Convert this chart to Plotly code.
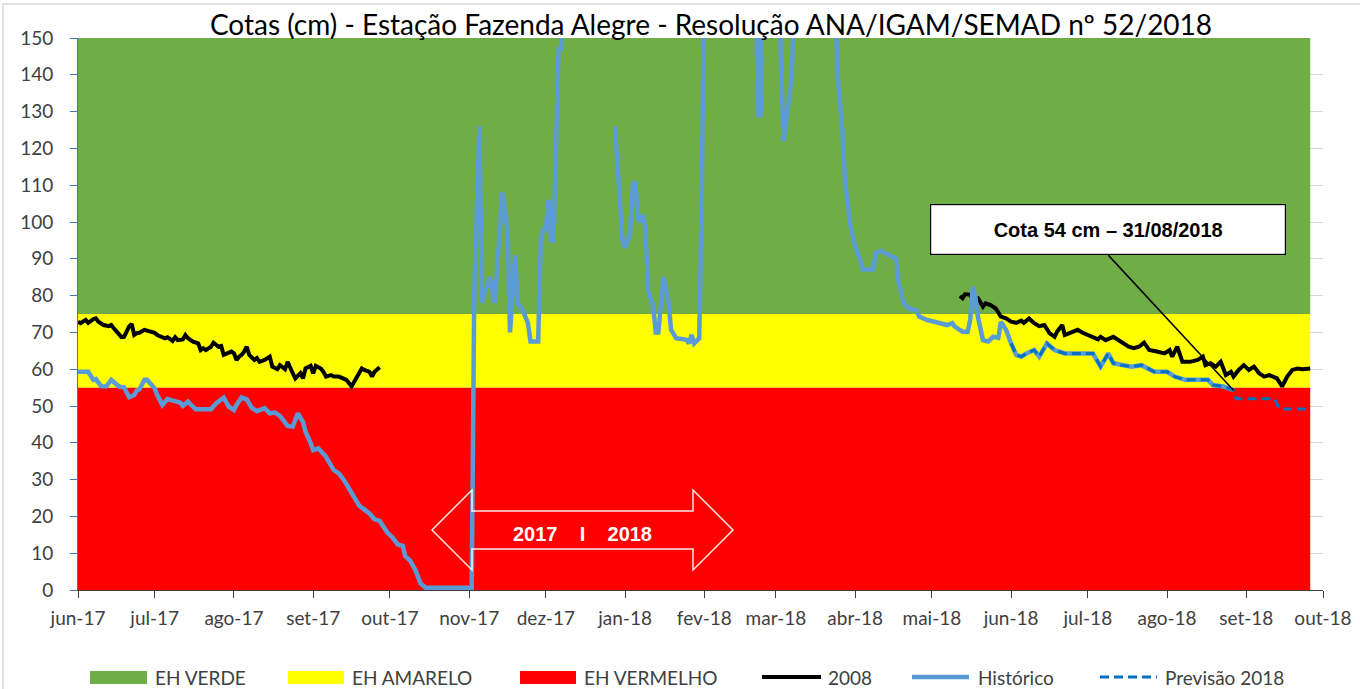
import plotly.graph_objects as go

# ---------------- data ----------------
tick_dates = ["2017-06-01", "2017-07-01", "2017-08-01", "2017-09-01", "2017-10-01", "2017-11-01",
              "2017-12-01", "2018-01-01", "2018-02-01", "2018-03-01", "2018-04-01", "2018-05-01",
              "2018-06-01", "2018-07-01", "2018-08-01", "2018-09-01", "2018-10-01"]
tick_labels = ["jun-17", "jul-17", "ago-17", "set-17", "out-17", "nov-17", "dez-17", "jan-18",
               "fev-18", "mar-18", "abr-18", "mai-18", "jun-18", "jul-18", "ago-18", "set-18", "out-18"]

band_dates = ["2017-06-01", "2018-09-26"]
eh_vermelho = [55, 55]
eh_amarelo = [75, 75]
eh_verde = [150, 150]

# 2008 reference year (plotted over 2017 and 2018)
y2008_dates = [
    "2017-06-01", "2017-06-02", "2017-06-04", "2017-06-05", "2017-06-07", "2017-06-08", "2017-06-09",
    "2017-06-11", "2017-06-13", "2017-06-14", "2017-06-15", "2017-06-17", "2017-06-18", "2017-06-19",
    "2017-06-21", "2017-06-22", "2017-06-23", "2017-06-24", "2017-06-25", "2017-06-27", "2017-06-29",
    "2017-07-01", "2017-07-02", "2017-07-04", "2017-07-05", "2017-07-06", "2017-07-08", "2017-07-09",
    "2017-07-10", "2017-07-12", "2017-07-13", "2017-07-14", "2017-07-16", "2017-07-18", "2017-07-19",
    "2017-07-20", "2017-07-21", "2017-07-23", "2017-07-24", "2017-07-26", "2017-07-27", "2017-07-28",
    "2017-07-30", "2017-07-31", "2017-08-01", "2017-08-02", "2017-08-03", "2017-08-04", "2017-08-05",
    "2017-08-06", "2017-08-07", "2017-08-09", "2017-08-10", "2017-08-11", "2017-08-13", "2017-08-15",
    "2017-08-16", "2017-08-18", "2017-08-19", "2017-08-21", "2017-08-22", "2017-08-23", "2017-08-24",
    "2017-08-25", "2017-08-27", "2017-08-28", "2017-08-29", "2017-08-31", "2017-09-01", "2017-09-02",
    "2017-09-04", "2017-09-05", "2017-09-06", "2017-09-08", "2017-09-09", "2017-09-11", "2017-09-13",
    "2017-09-14", "2017-09-16", "2017-09-17", "2017-09-19", "2017-09-20", "2017-09-21", "2017-09-23",
    "2017-09-24", "2017-09-25", "2017-09-27", "2017-09-28",
    "2018-05-12", "2018-05-13", "2018-05-14", "2018-05-16", "2018-05-17", "2018-05-19", "2018-05-21",
    "2018-05-22", "2018-05-24", "2018-05-26", "2018-05-28", "2018-05-30", "2018-06-01", "2018-06-03",
    "2018-06-05", "2018-06-06", "2018-06-08", "2018-06-10", "2018-06-12", "2018-06-14", "2018-06-16",
    "2018-06-18", "2018-06-19", "2018-06-21", "2018-06-22", "2018-06-24", "2018-06-27", "2018-06-29",
    "2018-07-01", "2018-07-03", "2018-07-05", "2018-07-06", "2018-07-08", "2018-07-11", "2018-07-13",
    "2018-07-15", "2018-07-17", "2018-07-19", "2018-07-21", "2018-07-23", "2018-07-25", "2018-07-28",
    "2018-07-31", "2018-08-02", "2018-08-03", "2018-08-05", "2018-08-07", "2018-08-10", "2018-08-13",
    "2018-08-15", "2018-08-16", "2018-08-18", "2018-08-20", "2018-08-22", "2018-08-24", "2018-08-26",
    "2018-08-27", "2018-08-29", "2018-08-31", "2018-09-02", "2018-09-04", "2018-09-06", "2018-09-08",
    "2018-09-10", "2018-09-13", "2018-09-15", "2018-09-17", "2018-09-19", "2018-09-21", "2018-09-23",
    "2018-09-26"]
y2008_vals = [
    72.9, 72.5, 73.4, 72.6, 73.6, 73.8, 72.9,
    72.0, 71.7, 72.0, 71.1, 69.3, 68.7, 68.8,
    71.6, 72.3, 69.3, 69.8, 69.9, 70.7, 70.2,
    69.9, 69.3, 68.8, 68.4, 68.7, 67.7, 68.7,
    67.9, 68.1, 69.3, 68.4, 67.5, 67.0, 65.2,
    65.7, 65.2, 66.1, 67.2, 66.1, 66.3, 63.9,
    64.5, 64.8, 64.3, 62.5, 63.4, 63.9, 64.8,
    66.1, 63.9, 62.5, 63.0, 62.0, 62.5, 63.4,
    60.7, 60.0, 61.1, 60.0, 62.0, 60.2, 58.9,
    57.5, 58.9, 57.5, 60.2, 60.9, 58.9, 60.9,
    60.2, 59.3, 58.0, 58.4, 58.0, 58.0, 57.3,
    57.1, 55.3, 56.6, 59.3, 60.2, 59.8, 59.3,
    58.0, 59.3, 60.5, None,
    79.9, 79.3, 80.4, 80.2, 78.8, 79.3, 77.0,
    77.9, 77.4, 76.5, 74.3, 73.8, 72.9, 72.6,
    73.2, 72.6, 73.8, 72.5, 71.7, 72.0, 69.8,
    68.8, 70.2, 72.0, 69.3, 69.8, 70.7, 69.9,
    69.3, 68.8, 68.1, 68.8, 67.9, 68.8, 67.9,
    67.0, 66.1, 65.7, 66.1, 67.2, 65.2, 64.8,
    64.3, 65.2, 63.4, 66.1, 62.0, 62.0, 62.5,
    63.4, 61.1, 61.6, 60.7, 62.0, 58.4, 59.3,
    58.0, 59.8, 61.1, 59.8, 60.7, 58.9, 58.0,
    58.4, 57.5, 55.3, 58.0, 59.8, 60.2, 60.0,
    60.2]

# Historical series (values above 150 run off the top of the chart)
hist_dates = [
    "2017-06-01", "2017-06-05", "2017-06-07", "2017-06-08", "2017-06-10", "2017-06-12", "2017-06-14",
    "2017-06-16", "2017-06-17", "2017-06-19", "2017-06-21", "2017-06-23", "2017-06-24", "2017-06-25",
    "2017-06-27", "2017-06-28", "2017-07-01", "2017-07-02", "2017-07-04", "2017-07-06", "2017-07-08",
    "2017-07-11", "2017-07-12", "2017-07-14", "2017-07-17", "2017-07-23", "2017-07-25", "2017-07-28",
    "2017-07-30", "2017-08-01", "2017-08-02", "2017-08-04", "2017-08-06", "2017-08-08", "2017-08-10",
    "2017-08-13", "2017-08-15", "2017-08-17", "2017-08-19", "2017-08-22", "2017-08-24", "2017-08-26",
    "2017-08-28", "2017-08-29", "2017-08-31", "2017-09-01", "2017-09-03", "2017-09-05", "2017-09-06",
    "2017-09-09", "2017-09-11", "2017-09-13", "2017-09-15", "2017-09-17", "2017-09-19", "2017-09-21",
    "2017-09-23", "2017-09-25", "2017-09-27", "2017-09-28", "2017-09-30", "2017-10-02", "2017-10-04",
    "2017-10-06", "2017-10-07", "2017-10-09", "2017-10-11", "2017-10-13", "2017-10-15", "2017-11-02",
    "2017-11-03", "2017-11-05", "2017-11-06", "2017-11-09", "2017-11-11", "2017-11-14", "2017-11-16",
    "2017-11-17", "2017-11-19", "2017-11-20", "2017-11-22", "2017-11-24", "2017-11-25", "2017-11-28",
    "2017-11-29", "2017-11-30", "2017-12-01", "2017-12-02", "2017-12-03", "2017-12-04", "2017-12-06",
    "2017-12-07", "2017-12-08", "2017-12-18",
    "2017-12-28", "2017-12-30", "2017-12-31", "2018-01-01", "2018-01-03", "2018-01-04", "2018-01-05",
    "2018-01-06", "2018-01-07", "2018-01-08", "2018-01-09", "2018-01-10", "2018-01-12", "2018-01-13",
    "2018-01-14", "2018-01-16", "2018-01-18", "2018-01-19", "2018-01-21", "2018-01-25", "2018-01-26",
    "2018-01-27", "2018-01-28", "2018-01-30", "2018-01-31", "2018-02-01", "2018-02-11", "2018-02-21",
    "2018-02-22", "2018-02-23", "2018-02-24", "2018-02-27", "2018-03-02", "2018-03-04", "2018-03-07",
    "2018-03-09", "2018-03-18", "2018-03-24", "2018-03-25", "2018-03-27", "2018-03-28", "2018-03-30",
    "2018-04-01", "2018-04-03", "2018-04-04", "2018-04-08", "2018-04-09", "2018-04-11", "2018-04-14",
    "2018-04-17", "2018-04-18", "2018-04-20", "2018-04-22", "2018-04-25", "2018-04-26", "2018-04-29",
    "2018-05-02", "2018-05-04", "2018-05-07", "2018-05-09", "2018-05-10", "2018-05-13", "2018-05-15",
    "2018-05-16", "2018-05-17", "2018-05-18", "2018-05-19", "2018-05-21", "2018-05-23", "2018-05-25",
    "2018-05-27", "2018-05-28", "2018-05-30", "2018-06-01", "2018-06-03", "2018-06-05", "2018-06-07",
    "2018-06-10", "2018-06-12", "2018-06-15", "2018-06-18", "2018-06-22", "2018-07-03", "2018-07-06",
    "2018-07-09", "2018-07-11", "2018-07-14", "2018-07-18", "2018-07-22", "2018-07-27", "2018-08-01",
    "2018-08-04", "2018-08-08", "2018-08-17", "2018-08-19", "2018-08-23", "2018-08-27"]
hist_vals = [
    59.3, 59.3, 57.1, 57.3, 55.4, 55.3, 57.1,
    55.7, 55.3, 55.1, 52.4, 53.0, 54.2, 54.5,
    57.1, 57.1, 54.8, 53.0, 50.3, 51.9, 51.4,
    50.9, 50.0, 51.2, 49.1, 49.1, 50.7, 52.3,
    49.8, 48.9, 50.3, 52.3, 51.8, 49.5, 48.6,
    49.4, 48.0, 48.2, 47.3, 44.6, 44.4, 48.0,
    45.7, 43.0, 39.9, 38.0, 38.5, 37.1, 36.2,
    32.6, 31.7, 29.9, 27.6, 25.4, 22.9, 21.9,
    20.8, 19.2, 18.8, 17.7, 15.6, 14.3, 12.4,
    12.0, 9.2, 7.9, 5.4, 1.8, 0.6, 0.6,
    80.0, 126.0, 78.0, 85.0, 78.0, 108.0, 98.0,
    70.0, 91.0, 78.0, 76.0, 72.5, 67.5, 67.5,
    95.0, 98.0, 98.0, 106.0, 95.0, 95.0, 147.0,
    147.0, 170.0, None,
    126.0, 107.0, 95.0, 93.0, 97.0, 110.0, 111.0,
    101.0, 100.0, 102.0, 98.0, 81.5, 77.0, 70.0,
    70.0, 85.0, 78.0, 70.7, 68.4, 68.0, 67.0,
    69.3, 67.0, 68.4, 107.0, 170.0, 190.0, 170.0,
    129.0, 129.0, 170.0, 180.0, 165.0, 122.0, 138.0,
    170.0, 200.0, 170.0, 141.0, 125.0, 111.4, 99.6,
    93.3, 89.7, 87.1, 87.1, 91.5, 92.2, 91.0,
    90.0, 83.5, 78.0, 76.5, 76.0, 74.3, 73.4,
    72.9, 72.5, 72.0, 72.5, 71.6, 70.2, 70.2,
    73.4, 82.4, 79.7, 74.3, 67.9, 67.5, 68.8,
    68.5, 72.9, 70.7, 67.0, 63.9, 63.4, 64.3,
    65.2, 63.4, 67.0, 65.2, 64.3, 64.3, 60.7,
    64.3, 61.6, 61.1, 60.7, 61.1, 59.3, 59.3,
    58.0, 57.1, 57.1, 55.7, 55.3, 54.3]

# Forecast 2018
prev_dates = [
    "2018-06-01", "2018-06-03", "2018-06-05", "2018-06-07", "2018-06-10", "2018-06-12", "2018-06-15",
    "2018-06-18", "2018-06-22", "2018-07-03", "2018-07-06", "2018-07-09", "2018-07-11", "2018-07-14",
    "2018-07-18", "2018-07-22", "2018-07-27", "2018-08-01", "2018-08-04", "2018-08-08", "2018-08-17",
    "2018-08-19", "2018-08-23", "2018-08-27", "2018-08-28", "2018-09-12", "2018-09-14", "2018-09-26"]
prev_vals = [
    67.0, 63.9, 63.4, 64.3, 65.2, 63.4, 67.0,
    65.2, 64.3, 64.3, 60.7, 64.3, 61.6, 61.1,
    60.7, 61.1, 59.3, 59.3, 58.0, 57.1, 57.1,
    55.7, 55.3, 54.3, 52.0, 52.0, 49.2, 49.2]

title_text = "Cotas (cm) - Estação Fazenda Alegre - Resolução ANA/IGAM/SEMAD nº 52/2018"
callout_text = "Cota 54 cm – 31/08/2018"
years_text = "2017\u00a0\u00a0\u00a0 I \u00a0\u00a0\u00a02018"

# ---------------- layout helpers ----------------
W, H = 1360, 689
L, R, T, B = 78, 1323, 38, 590          # plot area in window pixels
def px(x):
    return (x - L) / (R - L)
def py(y):
    return (B - y) / (B - T)

CAL = "Lato, 'Open Sans', sans-serif"
ARIAL = "'Liberation Sans', Arial, sans-serif"

fig = go.Figure()
fig.add_trace(go.Scatter(x=band_dates, y=eh_vermelho, name="EH VERMELHO", mode="lines",
                         line=dict(width=0, color="#FF0000"), fill="tozeroy", fillcolor="#FF0000",
                         hoverinfo="skip"))
fig.add_trace(go.Scatter(x=band_dates, y=eh_amarelo, name="EH AMARELO", mode="lines",
                         line=dict(width=0, color="#FFFF00"), fill="tonexty", fillcolor="#FFFF00",
                         hoverinfo="skip"))
fig.add_trace(go.Scatter(x=band_dates, y=eh_verde, name="EH VERDE", mode="lines",
                         line=dict(width=0, color="#70AD47"), fill="tonexty", fillcolor="#70AD47",
                         hoverinfo="skip"))
fig.add_trace(go.Scatter(x=y2008_dates, y=y2008_vals, name="2008", mode="lines",
                         line=dict(color="#000000", width=4), connectgaps=False))
fig.add_trace(go.Scatter(x=hist_dates, y=hist_vals, name="Histórico", mode="lines",
                         line=dict(color="#5B9BD5", width=4.5), connectgaps=False))
fig.add_trace(go.Scatter(x=prev_dates, y=prev_vals, name="Previsão 2018", mode="lines",
                         line=dict(color="#0070C0", width=3, dash="9px,5px")))

shapes = []
annotations = []

# chart border (light grey frame, top and left visible)
shapes.append(dict(type="rect", xref="paper", yref="paper", x0=px(3), x1=px(1420), y0=py(760), y1=py(4),
                   line=dict(color="#D9D9D9", width=1.5), fillcolor="rgba(0,0,0,0)", layer="below"))

# double arrow "2017 | 2018"
pts = [(432, 530), (472, 490), (472, 511), (693, 511), (693, 490), (733, 530), (693, 570), (693, 549),
       (472, 549), (472, 570)]
path = "M" + " L".join(f"{px(a):.5f},{py(b):.5f}" for a, b in pts) + " Z"
shapes.append(dict(type="path", xref="paper", yref="paper", path=path,
                   line=dict(color="rgba(255,255,255,0.9)", width=1.5), fillcolor="rgba(0,0,0,0)", layer="above"))
annotations.append(dict(xref="paper", yref="paper", x=px(582), y=py(534), text=years_text, showarrow=False,
                        font=dict(family=ARIAL, size=20, color="white", weight="bold"),
                        xanchor="center", yanchor="middle"))

# callout
shapes.append(dict(type="line", xref="x", yref="y", x0="2018-07-09", y0=91, x1=hist_dates[-1], y1=hist_vals[-1],
                   line=dict(color="black", width=1.5), layer="above"))
annotations.append(dict(xref="paper", yref="paper", x=px(1108), y=py(229), text=f"<b>{callout_text}</b>",
                        showarrow=False, font=dict(family=ARIAL, size=20, color="black"),
                        bgcolor="white", bordercolor="black", borderwidth=1.2, width=352, height=47,
                        xanchor="center", yanchor="middle", align="center"))

# manual legend
leg_y = 677
for (x0, x1, col, label, tx) in [(90, 147, "#70AD47", "EH VERDE", 153), (288, 344, "#FFFF00", "EH AMARELO", 350),
                                 (520, 576, "#FF0000", "EH VERMELHO", 582)]:
    shapes.append(dict(type="rect", xref="paper", yref="paper", x0=px(x0), x1=px(x1), y0=py(684), y1=py(671),
                       line=dict(width=0), fillcolor=col))
    annotations.append(dict(xref="paper", yref="paper", x=px(tx), y=py(leg_y), text=label, showarrow=False,
                            xanchor="left", yanchor="middle", font=dict(family=CAL, size=19, color="#404040")))
for (x0, x1, col, w, dash, label, tx) in [(762, 821, "#000000", 4, "solid", "2008", 826),
                                          (912, 969, "#5B9BD5", 4.5, "solid", "Histórico", 976),
                                          (1100, 1157, "#0070C0", 3, "9px,5px", "Previsão 2018", 1163)]:
    shapes.append(dict(type="line", xref="paper", yref="paper", x0=px(x0), x1=px(x1), y0=py(leg_y), y1=py(leg_y),
                       line=dict(color=col, width=w, dash=dash)))
    annotations.append(dict(xref="paper", yref="paper", x=px(tx), y=py(leg_y), text=label, showarrow=False,
                            xanchor="left", yanchor="middle", font=dict(family=CAL, size=19, color="#404040")))

fig.update_layout(
    width=W, height=H, autosize=False,
    margin=dict(l=L, r=W - R, t=T, b=H - B, pad=0),
    paper_bgcolor="white", plot_bgcolor="white",
    showlegend=False, hovermode=False,
    title=dict(text=title_text, xref="paper", x=px(711), xanchor="center",
               yref="container", y=1 - 25 / H, yanchor="middle",
               font=dict(family=CAL, size=28, color="#000000")),
    xaxis=dict(type="date", range=["2017-06-01", "2018-10-01"], tickvals=tick_dates, ticktext=tick_labels,
               ticks="outside", ticklen=7, tickcolor="#404040", showline=True, linecolor="#404040",
               showgrid=False, zeroline=False, tickfont=dict(family=CAL, size=19, color="#404040"),
               tickangle=0, ticklabelstandoff=4, automargin=False),
    yaxis=dict(range=[0, 150], dtick=10, tick0=0, ticks="outside", ticklen=7, tickcolor="#4472C4",
               showline=True, linecolor="#4472C4", linewidth=1, showgrid=True, gridcolor="#D9D9D9",
               zeroline=False, tickfont=dict(family=CAL, size=19, color="#404040"), ticklabelstandoff=13,
               automargin=False),
    shapes=shapes, annotations=annotations,
)

# remove the page's default 8px body margin so the figure sits at the window's corner
fig.write_html("out.html", config={"responsive": False, "displayModeBar": False},
               post_script="document.body.style.margin='0';document.body.style.overflow='hidden';")
